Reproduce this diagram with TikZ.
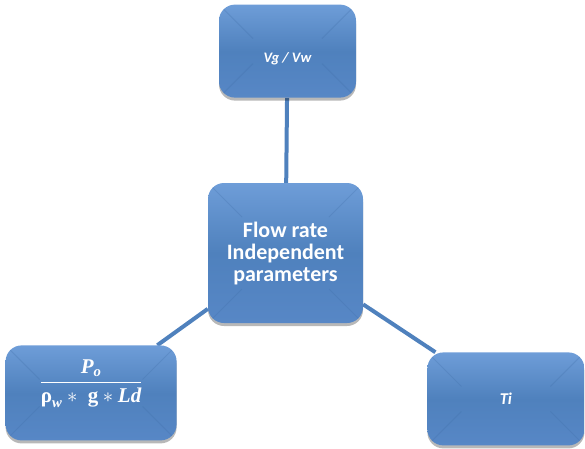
\documentclass[tikz,border=0pt]{standalone}
\usepackage{amsmath}
\usepackage{fontspec}
\setmainfont{Carlito}
\newfontfamily\formulafont{Liberation Serif}
\usetikzlibrary{positioning,shadows,backgrounds}
\definecolor{boxblue}{HTML}{4F81BD}
\definecolor{boxtop}{HTML}{6E9DD8}
\definecolor{boxbottom}{HTML}{5787C6}
\definecolor{boxdeep}{HTML}{3F6DA6}

\begin{document}
\begin{tikzpicture}[x=1pt, y=1pt, box/.style={rounded corners=16pt, inner sep=4pt, align=center, text=white, top color=boxtop, bottom color=boxbottom, middle color=boxblue, drop shadow={shadow xshift=0pt, shadow yshift=-3pt, fill=black, opacity=0.28}, path picture={\foreach \corner/\dx/\dy in {north west/1/-1, north east/-1/-1, south west/1/1, south east/-1/1} \draw[boxdeep, opacity=0.25, line width=1pt] (path picture bounding box.\corner) -- ++(\dx*34pt,\dy*34pt);}}, link/.style={draw=boxblue, line width=4pt}]
\useasboundingbox (0,0) rectangle (585,-448);
\node[box, minimum width=155pt, minimum height=140pt, font=\bfseries\fontsize{22}{22}\selectfont] (core) at (285.5,-253) {\\[-6pt]Flow rate\\Independent\\parameters};
\node[box, minimum width=137pt, minimum height=93pt, above=85pt of core, xshift=2pt, text height=26pt, font=\bfseries\itshape\fontsize{14.5}{16}\selectfont] (ratio) {Vg / Vw};
\node[box, minimum width=171pt, minimum height=95pt, below left=22pt and 31pt of core, font=\formulafont\bfseries\fontsize{21}{24}\selectfont] (head) {$\genfrac{}{}{1.5pt}{0}{\text{\itshape P}_{\text{\itshape o}}}{\text{ρ}_{\text{\itshape w}}\ast\;\text{g}\ast\text{\itshape Ld}}$\\[14pt]};
\node[box, minimum width=157pt, minimum height=93pt, below right=29pt and 64pt of core, font=\bfseries\itshape\fontsize{16.5}{20}\selectfont] (temp) {Ti};
% connectors behind the boxes
\begin{scope}[on background layer]
\draw[link] (ratio) -- (core);
\draw[link] (core) -- (head);
\draw[link] (core) -- (temp);
\end{scope}
\end{tikzpicture}
\end{document}
